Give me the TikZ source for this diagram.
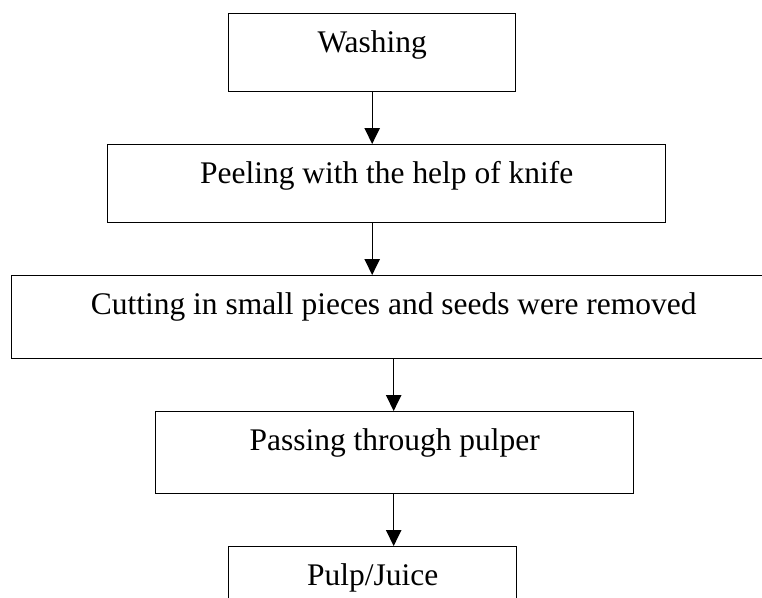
\documentclass[tikz,border=0pt]{standalone}
\usepackage{fontspec}
\setmainfont{Liberation Serif}
\usetikzlibrary{arrows.meta}
\begin{document}
\begin{tikzpicture}[x=0.75pt,y=-0.75pt,
  stepbox/.style={draw=black, line width=1pt, inner sep=0pt, anchor=north west,
    font=\fontsize{23.6}{28}\selectfont, text height=29.25pt},
  arr/.style={-{Triangle[width=11.5pt,length=12pt]}, line width=1pt}]
\useasboundingbox (0,0) rectangle (762,597);
\clip (0,0) rectangle (762,597);
\node[stepbox, minimum width=215.25pt, text depth=29.25pt] (wash) at (228,13) {Washing};
\node[stepbox, minimum width=418.5pt, text depth=29.25pt] (peel) at (107,144) {Peeling with the help of knife};
\node[stepbox, minimum width=573pt, text depth=33pt] (cut) at (11,275) {Cutting in small pieces and seeds were removed};
\node[stepbox, minimum width=358.5pt, text depth=32.25pt] (pass) at (155,411) {Passing through pulper};
\node[stepbox, minimum width=216pt, text depth=29.25pt] (pulp) at (228,546) {Pulp/Juice};
\draw[arr] (wash.south) -- (wash.south |- peel.north);
\draw[arr] (peel.south -| wash.south) -- (wash.south |- cut.north);
\draw[arr] (cut.south) -- (cut.south |- pass.north);
\draw[arr] (pass.south -| cut.south) -- (cut.south |- pulp.north);
\end{tikzpicture}
\end{document}
